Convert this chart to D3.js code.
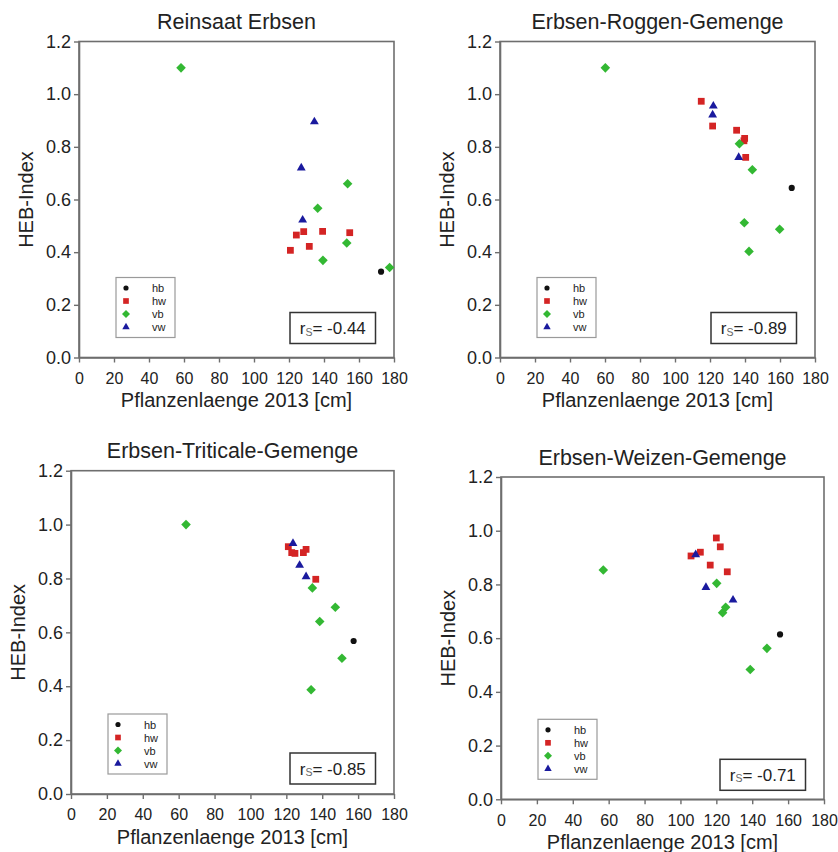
<!DOCTYPE html>
<html>
<head>
<meta charset="utf-8">
<script src="https://cdn.jsdelivr.net/npm/d3@7"></script>
<style>
  html, body { margin: 0; padding: 0; background: #fff; }
  svg { display: block; font-family: "Liberation Sans", Arial, sans-serif; }
</style>
</head>
<body>
<svg id="chart" width="838" height="852"></svg>
<script>
// Axis ticks shared by all four panels
const xTicks = [0, 20, 40, 60, 80, 100, 120, 140, 160, 180];
const yTicks = [0.0, 0.2, 0.4, 0.6, 0.8, 1.0, 1.2];
const seriesNames = ["hb", "hw", "vb", "vw"];

// Reinsaat Erbsen: [Pflanzenlaenge cm, HEB-Index]
const reinsaatHb = [[172.6, 0.326]];
const reinsaatHw = [[120.8, 0.407], [124.2, 0.465], [128.4, 0.478], [131.6, 0.422], [139.2, 0.479], [154.7, 0.474]];
const reinsaatVb = [[58.3, 1.100], [136.4, 0.567], [139.4, 0.369], [153.0, 0.435], [153.5, 0.660], [177.5, 0.342]];
const reinsaatVw = [[127.0, 0.720], [127.8, 0.522], [134.5, 0.895]];

// Erbsen-Roggen-Gemenge
const roggenHb = [[166.7, 0.644]];
const roggenHw = [[115.0, 0.973], [121.5, 0.879], [135.2, 0.863], [139.8, 0.832], [139.4, 0.823], [140.4, 0.760]];
const roggenVb = [[60.2, 1.100], [136.8, 0.812], [144.2, 0.713], [139.6, 0.512], [159.8, 0.487], [142.3, 0.403]];
const roggenVw = [[121.9, 0.955], [121.5, 0.921], [136.4, 0.760]];

// Erbsen-Triticale-Gemenge
const triticaleHb = [[157.5, 0.568]];
const triticaleHw = [[121.1, 0.918], [123.0, 0.896], [124.8, 0.893], [129.5, 0.896], [131.0, 0.908], [136.4, 0.797]];
const triticaleVb = [[64.1, 1.000], [134.5, 0.765], [147.3, 0.693], [138.6, 0.640], [151.0, 0.504], [133.8, 0.387]];
const triticaleVw = [[123.7, 0.930], [127.4, 0.849], [131.0, 0.807]];

// Erbsen-Weizen-Gemenge
const weizenHb = [[155.5, 0.614]];
const weizenHw = [[120.0, 0.973], [122.2, 0.940], [111.1, 0.920], [105.9, 0.906], [116.6, 0.872], [126.1, 0.847]];
const weizenVb = [[57.0, 0.854], [120.2, 0.804], [125.2, 0.715], [123.5, 0.695], [148.2, 0.562], [138.9, 0.483]];
const weizenVw = [[108.5, 0.911], [114.2, 0.789], [129.3, 0.742]];

// Panel titles and Spearman coefficients
const titles = ["Reinsaat Erbsen", "Erbsen-Roggen-Gemenge", "Erbsen-Triticale-Gemenge", "Erbsen-Weizen-Gemenge"];
const spearman = ["-0.44", "-0.89", "-0.85", "-0.71"];

const panelData = [
  [reinsaatHb, reinsaatHw, reinsaatVb, reinsaatVw],
  [roggenHb, roggenHw, roggenVb, roggenVw],
  [triticaleHb, triticaleHw, triticaleVb, triticaleVw],
  [weizenHb, weizenHw, weizenVb, weizenVw]
];

// Plot frames (pixel boxes) and box placement for each panel
const frames = [
  { l: 79,  r: 394, t: 41.5, b: 357.5, rsBottom: 14 },
  { l: 500, r: 815, t: 41.5, b: 357.5, rsBottom: 14 },
  { l: 71,  r: 394, t: 470.7, b: 794, rsBottom: 10 },
  { l: 501, r: 824, t: 477, b: 799.3, rsBottom: 9 }
];

// Marker styles per series
const styles = {
  hb: { color: "#111111", symbol: d3.symbolCircle, size: 30, rotate: 0 },
  hw: { color: "#d42424", symbol: d3.symbolSquare, size: 46, rotate: 0 },
  vb: { color: "#33b833", symbol: d3.symbolSquare, size: 46, rotate: 45 },
  vw: { color: "#1a1a9e", symbol: d3.symbolTriangle, size: 34, rotate: 0 }
};

const axisColor = "#6e6e6e";
const svg = d3.select("#chart");

frames.forEach((f, i) => {
  const g = svg.append("g");
  const x = d3.scaleLinear().domain([0, 180]).range([f.l, f.r]);
  const y = d3.scaleLinear().domain([0, 1.2]).range([f.b, f.t]);

  // Frame (top and right lines)
  g.append("rect")
    .attr("x", f.l).attr("y", f.t)
    .attr("width", f.r - f.l).attr("height", f.b - f.t)
    .attr("fill", "none").attr("stroke", axisColor).attr("stroke-width", 1.6);

  // Bottom axis
  const xAxis = g.append("g").attr("transform", `translate(0,${f.b})`)
    .call(d3.axisBottom(x).tickValues(xTicks).tickSize(5).tickSizeOuter(0).tickPadding(10).tickFormat(d3.format("d")));
  xAxis.select(".domain").attr("stroke", axisColor).attr("stroke-width", 1.6);
  xAxis.selectAll(".tick line").attr("stroke", axisColor).attr("stroke-width", 1.4);
  xAxis.selectAll(".tick text").attr("fill", "#222").attr("font-size", 16).attr("font-family", null);

  // Left axis
  const yAxis = g.append("g").attr("transform", `translate(${f.l},0)`)
    .call(d3.axisLeft(y).tickValues(yTicks).tickSize(5).tickSizeOuter(0).tickPadding(3).tickFormat(d3.format(".1f")));
  yAxis.select(".domain").attr("stroke", axisColor).attr("stroke-width", 1.6);
  yAxis.selectAll(".tick line").attr("stroke", axisColor).attr("stroke-width", 1.4);
  yAxis.selectAll(".tick text").attr("fill", "#222").attr("font-size", 18).attr("font-family", null);

  const cx = (f.l + f.r) / 2;
  const cy = (f.t + f.b) / 2;

  // Title
  g.append("text").attr("x", cx).attr("y", f.t - 12.5)
    .attr("text-anchor", "middle").attr("font-size", 21.5).attr("fill", "#222")
    .text(titles[i]);

  // Axis titles
  g.append("text").attr("x", cx).attr("y", f.b + 49.5)
    .attr("text-anchor", "middle").attr("font-size", 20).attr("fill", "#222")
    .text("Pflanzenlaenge 2013 [cm]");
  g.append("text")
    .attr("transform", `translate(${f.l - 46},${cy}) rotate(-90)`)
    .attr("text-anchor", "middle").attr("font-size", 20).attr("fill", "#222")
    .text("HEB-Index");

  // Points
  seriesNames.forEach((name, k) => {
    const st = styles[name];
    const sym = d3.symbol().type(st.symbol).size(st.size);
    g.append("g").selectAll("path")
      .data(panelData[i][k])
      .join("path")
      .attr("d", sym)
      .attr("fill", st.color)
      .attr("transform", d => `translate(${x(d[0])},${y(d[1])}) rotate(${st.rotate})`);
  });

  // Legend
  const lx = f.l + 37, ly = f.b - 80;
  const lg = g.append("g").attr("transform", `translate(${lx},${ly})`);
  lg.append("rect").attr("width", 59).attr("height", 60)
    .attr("fill", "#fff").attr("stroke", "#9a9a9a").attr("stroke-width", 1.2);
  seriesNames.forEach((name, k) => {
    const st = styles[name];
    const ry = 10.5 + k * 13;
    lg.append("path")
      .attr("d", d3.symbol().type(st.symbol).size(st.size * 0.7))
      .attr("fill", st.color)
      .attr("transform", `translate(10,${ry}) rotate(${st.rotate})`);
    lg.append("text").attr("x", 36).attr("y", ry + 4)
      .attr("font-size", 11).attr("fill", "#222").text(name);
  });

  // Spearman coefficient box
  const bw = 85.5, bh = 31;
  const bx = f.r - 18.5 - bw, by = f.b - f.rsBottom - bh;
  const rb = g.append("g").attr("transform", `translate(${bx},${by})`);
  rb.append("rect").attr("width", bw).attr("height", bh)
    .attr("fill", "#fff").attr("stroke", "#333").attr("stroke-width", 1.5);
  const t = rb.append("text").attr("x", bw / 2).attr("y", bh / 2 + 6)
    .attr("text-anchor", "middle").attr("font-size", 17).attr("fill", "#222");
  t.append("tspan").text("r");
  t.append("tspan").attr("font-size", 10.5).attr("fill", "#666").attr("dy", 1.5).text("S");
  t.append("tspan").attr("dy", -1.5).text("= " + spearman[i]);
});
</script>
</body>
</html>
